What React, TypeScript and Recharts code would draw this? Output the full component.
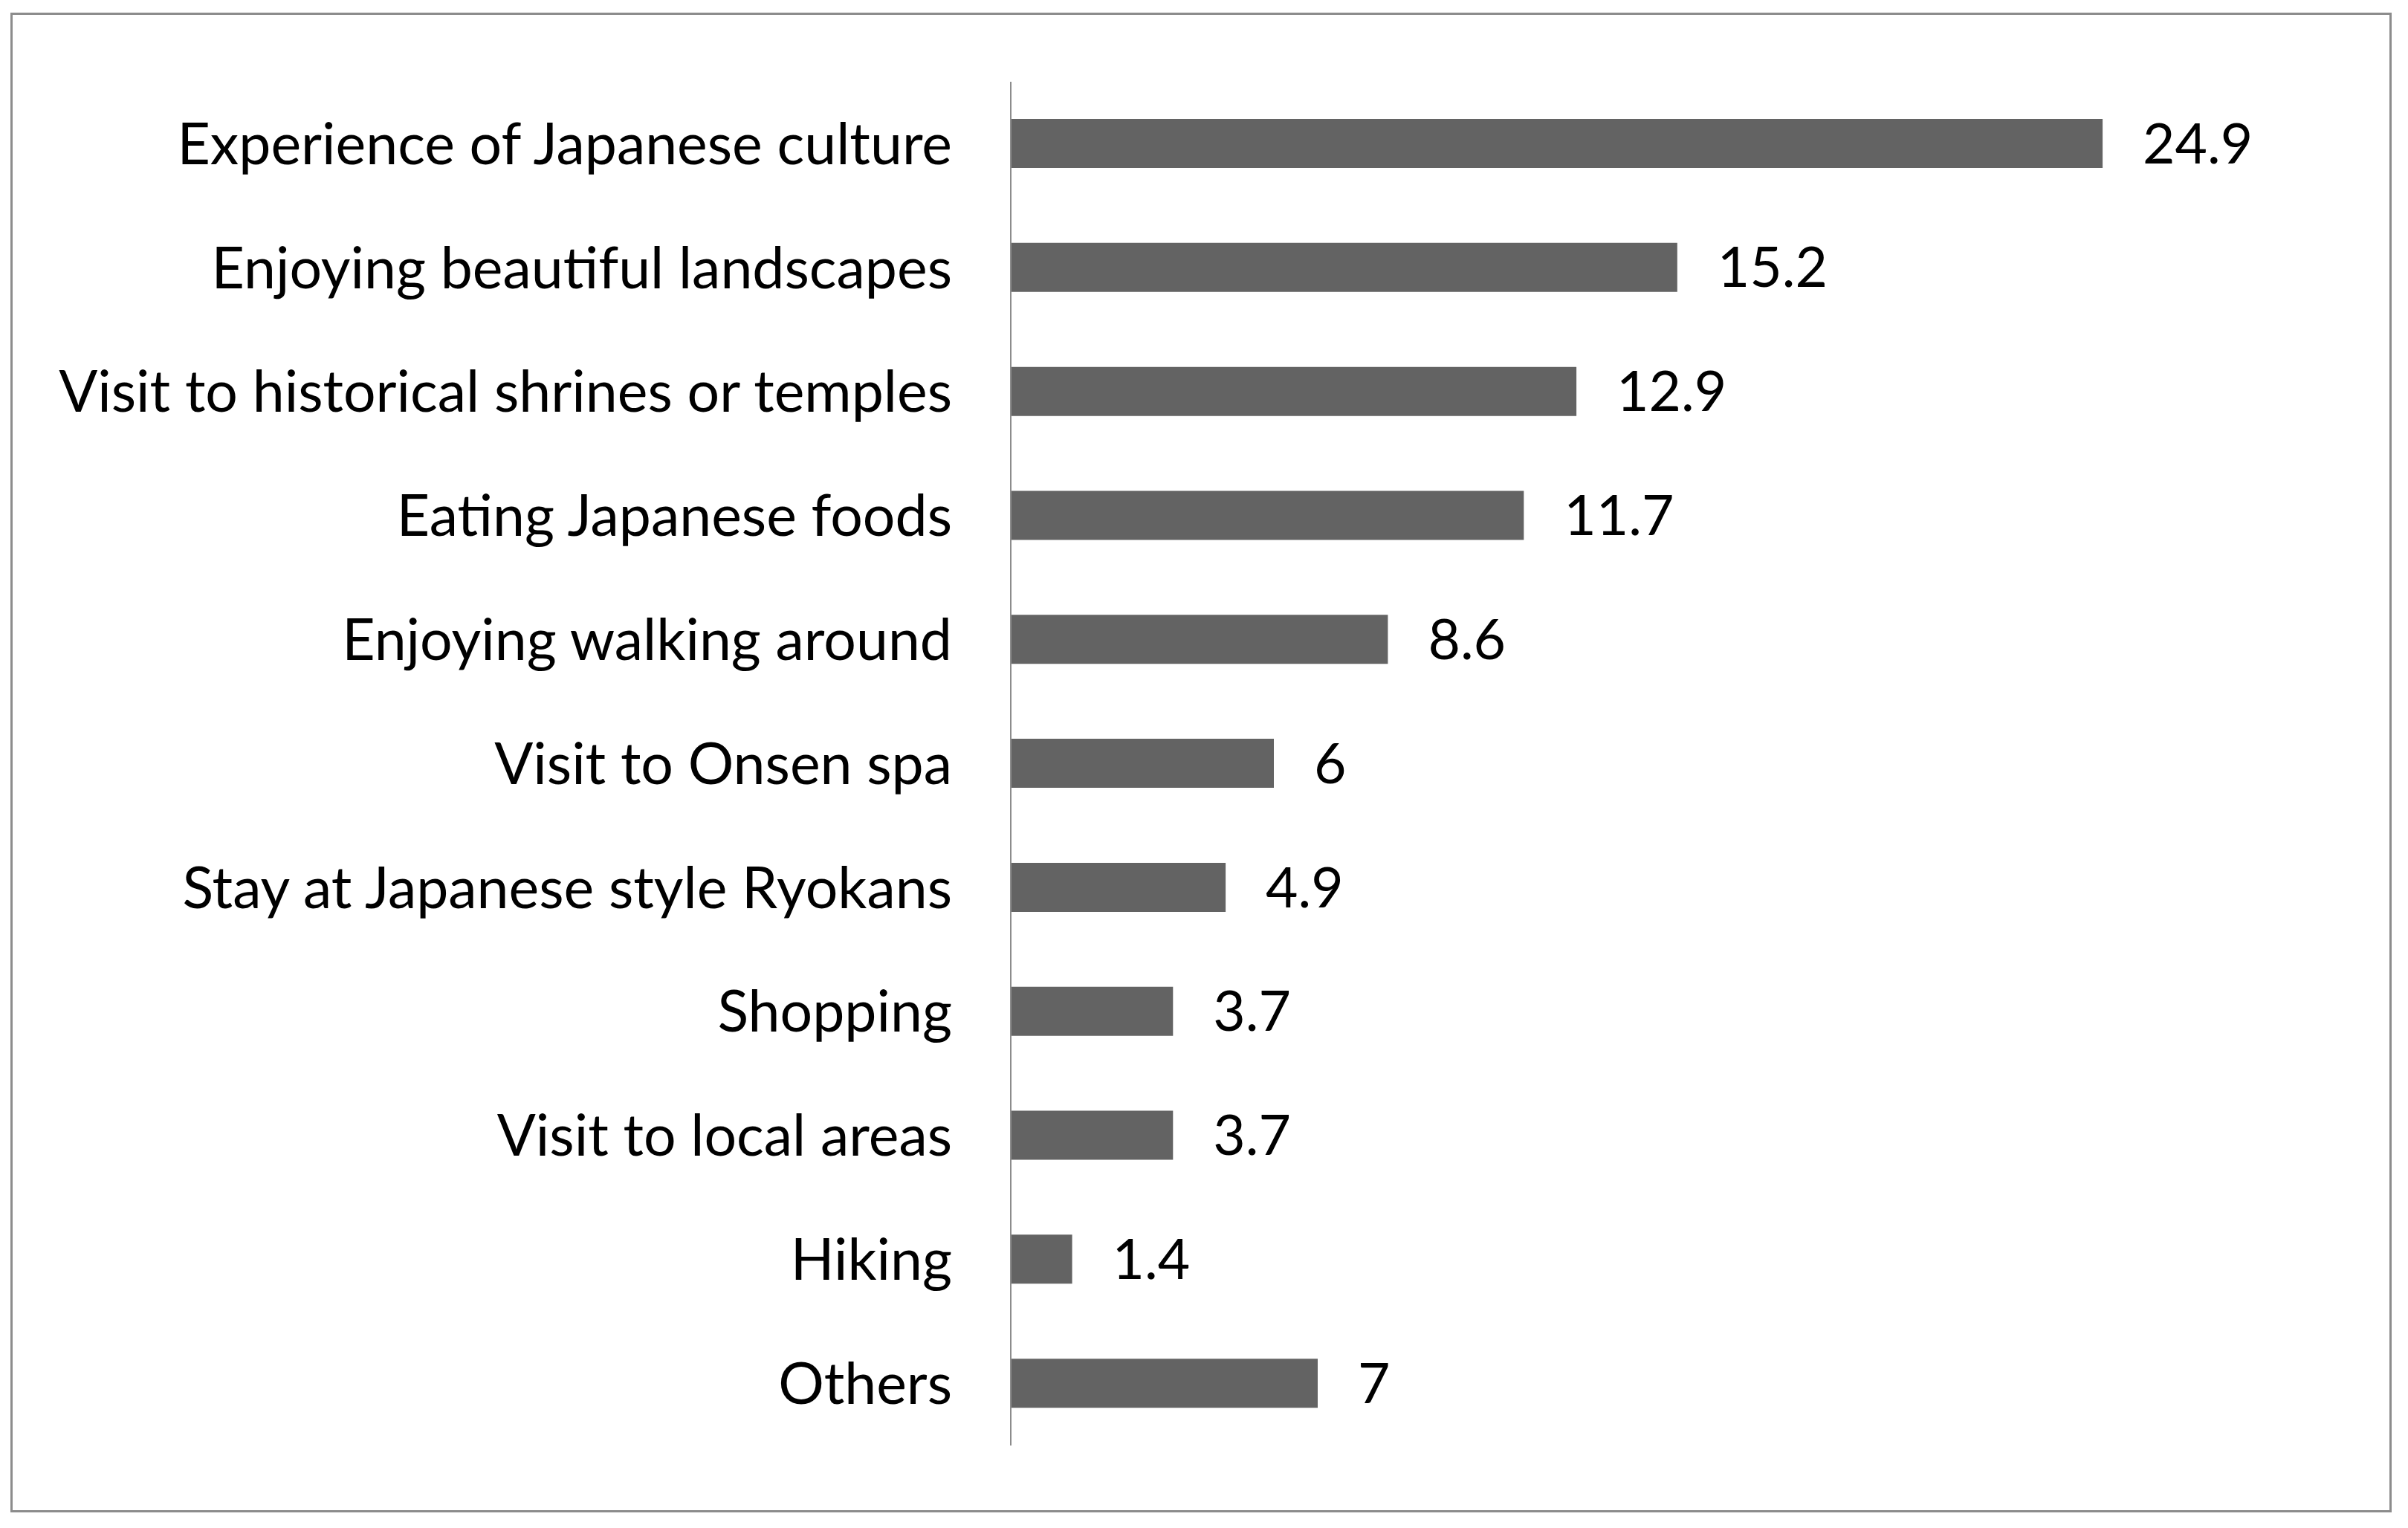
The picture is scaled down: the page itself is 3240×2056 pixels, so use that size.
import React from 'react';
import { BarChart, Bar, XAxis, YAxis, LabelList } from 'recharts';

const activities = [
    'Experience of Japanese culture',
    'Enjoying beautiful landscapes',
    'Visit to historical shrines or temples',
    'Eating Japanese foods',
    'Enjoying walking around',
    'Visit to Onsen spa',
    'Stay at Japanese style Ryokans',
    'Shopping',
    'Visit to local areas',
    'Hiking',
    'Others',
];

const shares = [24.9, 15.2, 12.9, 11.7, 8.6, 6, 4.9, 3.7, 3.7, 1.4, 7];

const FONT = 'Lato, "Open Sans", sans-serif';

const App = () => {
    // table for recharts, built from the arrays above
    const chartData = activities.map((name, i) => ({ name, value: shares[i] }));

    return (
        <div style={{ position: 'absolute', left: 0, top: 0, width: 3240, height: 2056, background: '#fff' }}>
            {/* outer frame */}
            <div
                style={{
                    position: 'absolute',
                    left: 14,
                    top: 17,
                    width: 3204,
                    height: 2018,
                    border: '3px solid #8c8c8c',
                    boxSizing: 'border-box',
                }}
            />
            <div style={{ position: 'absolute', left: 0, top: 0 }}>
                <BarChart
                    width={3240}
                    height={2056}
                    data={chartData}
                    layout="vertical"
                    margin={{ top: 110, right: 110, bottom: 111, left: 0 }}
                >
                    <XAxis type="number" domain={[0, 30]} hide />
                    <YAxis
                        type="category"
                        dataKey="name"
                        width={1360}
                        interval={0}
                        tickLine={false}
                        tickSize={0}
                        tickMargin={79}
                        axisLine={{ stroke: '#8c8c8c', strokeWidth: 2 }}
                        tick={{ fontSize: 77, fill: '#000', fontFamily: FONT }}
                    />
                    <Bar dataKey="value" fill="#636363" barSize={66} isAnimationActive={false}>
                        <LabelList
                            dataKey="value"
                            position="right"
                            offset={54}
                            fontSize={75}
                            fill="#000"
                            fontFamily={FONT}
                        />
                    </Bar>
                </BarChart>
            </div>
        </div>
    );
};

export default App;
